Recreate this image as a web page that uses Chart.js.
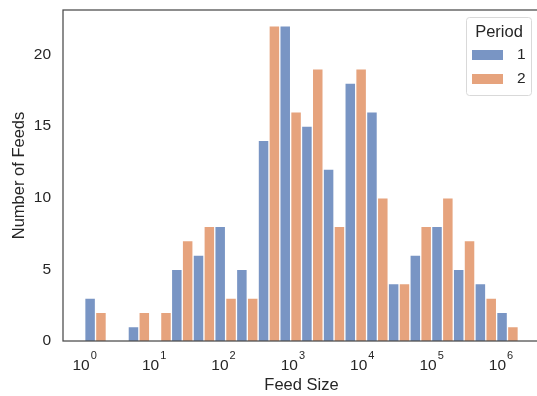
<!DOCTYPE html>
<html>
<head>
<meta charset="utf-8">
<script src="https://cdn.jsdelivr.net/npm/chart.js@4"></script>
<style>
  html, body { margin: 0; padding: 0; background: #fff; overflow: hidden; }
  #wrap { width: 537px; height: 396px; overflow: hidden; }
</style>
</head>
<body>
<div id="wrap"><canvas id="hist" width="540" height="396"></canvas></div>
<script>
// bin centres, log10(feed size); bins are 0.3125 decades wide, from 10^0 to 10^6.25
const binCenters = [0.15625, 0.46875, 0.78125, 1.09375, 1.40625, 1.71875, 2.03125, 2.34375, 2.65625, 2.96875,
                    3.28125, 3.59375, 3.90625, 4.21875, 4.53125, 4.84375, 5.15625, 5.46875, 5.78125, 6.09375];
const period1 = [3, 0, 1, 0, 5, 6, 8, 5, 14, 22, 15, 12, 18, 16, 4, 6, 8, 5, 4, 2];
const period2 = [2, 0, 2, 2, 7, 8, 3, 3, 22, 16, 19, 8, 19, 10, 4, 8, 10, 7, 3, 1];
const periodNames = ['1', '2'];
const xTicks = [0, 1, 2, 3, 4, 5, 6];   // exponents of 10
const yTicks = [0, 5, 10, 15, 20];

const FONT = 'Arial, "Liberation Sans", sans-serif';
const TEXT = '#262626';
const colors = ['rgba(76,114,176,0.75)', 'rgba(221,132,82,0.75)'];

const toPoints = vals => vals.map((v, i) => ({ x: binCenters[i], y: v }));

// axes frame (right spine falls outside the window)
const frame = {
  id: 'frame',
  afterDraw(chart) {
    const { ctx, chartArea: a } = chart;
    ctx.save();
    ctx.strokeStyle = '#4a4a4a';
    ctx.lineWidth = 1.25;
    ctx.strokeRect(a.left, a.top, a.right - a.left, a.bottom - a.top);
    ctx.restore();
  }
};

// x tick labels as 10 with a raised exponent, like matplotlib mathtext
const powerLabels = {
  id: 'powerLabels',
  afterDraw(chart) {
    const ctx = chart.ctx;
    const xs = chart.scales.x;
    const base = chart.chartArea.bottom + 29;
    ctx.save();
    ctx.fillStyle = TEXT;
    ctx.textBaseline = 'alphabetic';
    ctx.textAlign = 'left';
    xs.ticks.forEach(t => {
      const px = xs.getPixelForValue(t.value);
      ctx.font = '15.5px ' + FONT;
      const w1 = ctx.measureText('10').width;
      ctx.font = '11px ' + FONT;
      const exp = String(t.value);
      const w2 = ctx.measureText(exp).width;
      const x0 = px - (w1 + w2 + 1) / 2;
      ctx.font = '15.5px ' + FONT;
      ctx.fillText('10', x0, base);
      ctx.font = '11px ' + FONT;
      ctx.fillText(exp, x0 + w1 + 1, base - 11);
    });
    ctx.restore();
  }
};

// seaborn-like legend box in the upper right
const legendBox = {
  id: 'legendBox',
  afterDraw(chart) {
    const ctx = chart.ctx;
    const x = 466, y = 17, w = 65, h = 78;
    ctx.save();
    ctx.fillStyle = 'rgba(255,255,255,0.8)';
    ctx.strokeStyle = '#d9d9d9';
    ctx.lineWidth = 1;
    ctx.beginPath();
    ctx.roundRect(x + 0.5, y + 0.5, w, h, 3);
    ctx.fill();
    ctx.stroke();
    ctx.fillStyle = TEXT;
    ctx.textBaseline = 'middle';
    ctx.textAlign = 'center';
    ctx.font = '16.5px ' + FONT;
    ctx.fillText('Period', x + 33, y + 15);
    chart.data.datasets.forEach((ds, i) => {
      const cy = y + 38 + i * 24;
      ctx.fillStyle = ds.backgroundColor;
      ctx.fillRect(x + 6, cy - 5, 31, 10);
      ctx.fillStyle = TEXT;
      ctx.textAlign = 'left';
      ctx.font = '15.5px ' + FONT;
      ctx.fillText(ds.label, x + 51, cy);
    });
    ctx.restore();
  }
};

new Chart(document.getElementById('hist'), {
  type: 'bar',
  data: {
    datasets: [
      { label: periodNames[0], data: toPoints(period1), backgroundColor: colors[0] },
      { label: periodNames[1], data: toPoints(period2), backgroundColor: colors[1] }
    ]
  },
  options: {
    responsive: false,
    animation: false,
    devicePixelRatio: 1,
    layout: { padding: { left: 0, top: 10, right: 0, bottom: 0 } },
    datasets: {
      bar: {
        barPercentage: 1,
        categoryPercentage: 1,
        borderWidth: 1,
        borderColor: 'rgba(255,255,255,0.55)'
      }
    },
    scales: {
      x: {
        type: 'linear',
        offset: false,
        min: -0.3125,
        max: 6.5625,
        grid: { display: false, drawTicks: false },
        border: { display: false },
        afterBuildTicks: axis => { axis.ticks = xTicks.map(v => ({ value: v })); },
        afterFit: axis => { axis.height = 55; axis.paddingLeft = 0; axis.paddingRight = 0; },
        ticks: { display: false, autoSkip: false },
        title: {
          display: true,
          text: 'Feed Size',
          color: TEXT,
          font: { family: FONT, size: 16.5 },
          padding: { top: 0, bottom: 1 }
        }
      },
      y: {
        min: 0,
        max: 23.1,
        grid: { display: false, drawTicks: false },
        border: { display: false },
        afterBuildTicks: axis => { axis.ticks = yTicks.map(v => ({ value: v })); },
        afterFit: axis => { axis.width = 63; axis.paddingTop = 0; axis.paddingBottom = 0; },
        ticks: {
          padding: 12,
          color: TEXT,
          font: { family: FONT, size: 15.5 }
        },
        title: {
          display: true,
          text: 'Number of Feeds',
          color: TEXT,
          font: { family: FONT, size: 16.5 },
          padding: { top: 10, bottom: 0 }
        }
      }
    },
    plugins: {
      legend: { display: false },
      tooltip: { enabled: false }
    }
  },
  plugins: [frame, powerLabels, legendBox]
});
</script>
</body>
</html>
